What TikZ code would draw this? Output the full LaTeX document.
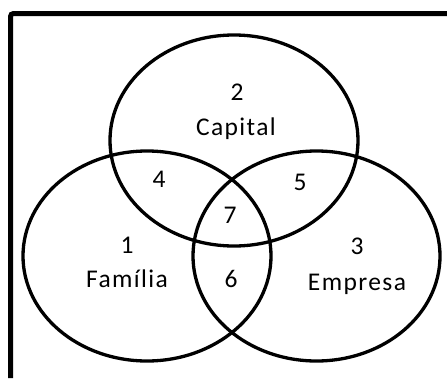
\documentclass[tikz,border=0pt]{standalone}
\usepackage{fontspec}
\setmainfont{Carlito}[LetterSpace=5.5]
\begin{document}
\begin{tikzpicture}[x=1pt,y=-1pt,
  ring/.style={line width=3.3pt,black},
  frameline/.style={line width=5pt,black,rounded corners=3pt},
  lbl/.style={font=\fontsize{25.5}{30}\selectfont,text=black,inner sep=0pt,anchor=base}]
\useasboundingbox (0,0) rectangle (447,378);
\fill[white] (0,0) rectangle (447,378);
\draw[frameline] (10.5,378) -- (10.5,13.5) -- (447,13.5);
\draw[ring] (234,140.5) ellipse [x radius=124, y radius=105.5];
\draw[ring] (147,256) ellipse [x radius=124, y radius=105];
\draw[ring] (316.5,256) ellipse [x radius=123.5, y radius=105];
\node[lbl] (n2) at (237,100) {2};
\node[lbl] (capital) at (236,135) {Capital};
\node[lbl] (n1) at (127,253) {1};
\node[lbl] (familia) at (127,287) {Família};
\node[lbl] (n3) at (357,254) {3};
\node[lbl] (empresa) at (357,290) {Empresa};
\node[lbl] (n4) at (159,187) {4};
\node[lbl] (n5) at (300,190) {5};
\node[lbl] (n7) at (230,223) {7};
\node[lbl] (n6) at (231,287) {6};
\end{tikzpicture}
\end{document}
